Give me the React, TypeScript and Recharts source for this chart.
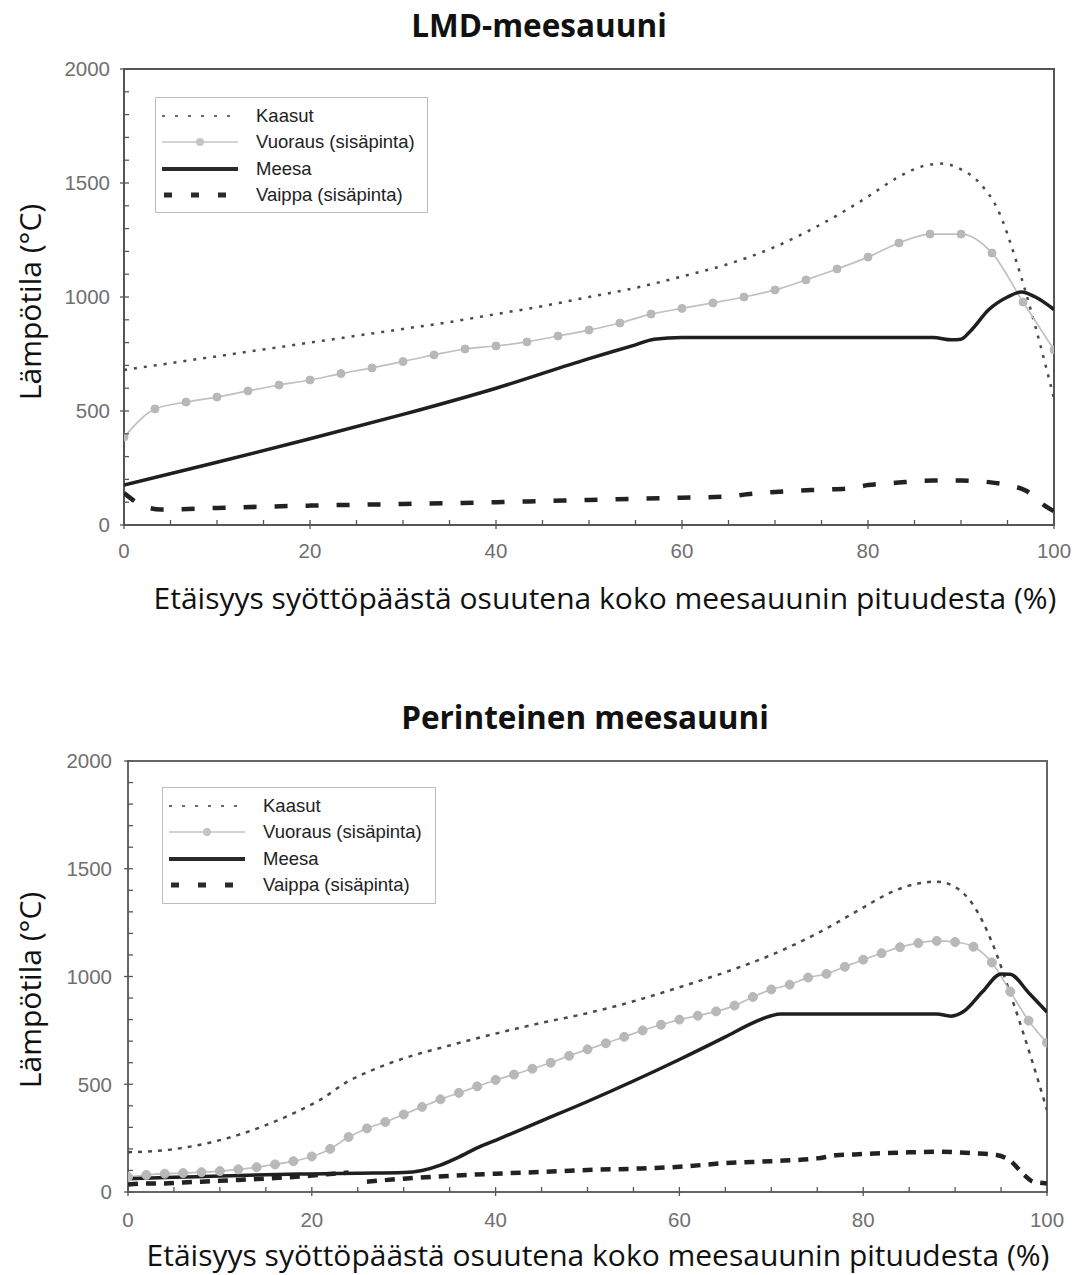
import React from 'react';
import { LineChart, Line, XAxis, YAxis, ReferenceArea, Legend } from 'recharts';

// ---------- LMD-meesauuni (top) ----------
const lmdKaasutX = [0, 5, 10, 15, 20, 25, 30, 35, 40, 45, 50, 55, 60, 65, 70, 75, 80, 83, 86, 88, 90, 92, 94, 96, 98, 100];
const lmdKaasutY = [680, 710, 740, 770, 800, 830, 860, 890, 925, 960, 1000, 1040, 1090, 1145, 1220, 1320, 1440, 1520, 1575, 1585, 1560, 1500, 1380, 1150, 870, 555];

const lmdVuorausX = [0, 3.33, 6.67, 10, 13.33, 16.67, 20, 23.33, 26.67, 30, 33.33, 36.67, 40, 43.33, 46.67, 50, 53.33, 56.67, 60, 63.33, 66.67, 70, 73.33, 76.67, 80, 83.33, 86.67, 90, 93.33, 96.67, 100];
const lmdVuorausY = [386, 509, 539, 561, 588, 614, 636, 664, 689, 717, 746, 772, 785, 803, 829, 855, 886, 925, 950, 974, 1000, 1031, 1075, 1123, 1175, 1237, 1276, 1276, 1193, 978, 768];

const lmdMeesaX = [0, 10, 20, 30, 40, 50, 55, 57, 60, 70, 80, 87, 89, 90, 91, 93, 95, 96.5, 98, 100];
const lmdMeesaY = [175, 275, 378, 485, 600, 730, 790, 815, 822, 822, 822, 822, 812, 815, 850, 945, 1000, 1022, 1000, 945];

const lmdVaippaX = [0, 2, 4, 10, 20, 30, 40, 50, 55, 60, 65, 67, 70, 75, 78, 80, 83, 87, 90, 93, 95, 97, 99, 100];
const lmdVaippaY = [140, 85, 68, 75, 85, 92, 100, 110, 115, 120, 125, 135, 145, 155, 160, 175, 185, 195, 195, 188, 175, 150, 85, 60];

// ---------- Perinteinen meesauuni (bottom) ----------
const perKaasutX = [0, 3, 6, 9, 12, 15, 18, 21, 24, 26, 28, 30, 35, 40, 45, 50, 55, 60, 65, 70, 75, 80, 83, 86, 88, 90, 92, 94, 96, 98, 100];
const perKaasutY = [185, 190, 205, 230, 265, 310, 365, 430, 515, 555, 590, 620, 680, 735, 785, 830, 885, 950, 1020, 1100, 1200, 1320, 1390, 1432, 1440, 1415, 1330, 1160, 920, 660, 380];

const perVuorausX = [0, 2, 4, 6, 8, 10, 12, 14, 16, 18, 20, 22, 24, 26, 28, 30, 32, 34, 36, 38, 40, 42, 44, 46, 48, 50, 52, 54, 56, 58, 60, 62, 64, 66, 68, 70, 72, 74, 76, 78, 80, 82, 84, 86, 88, 90, 92, 94, 96, 98, 100];
const perVuorausY = [70, 79, 85, 88, 92, 97, 105, 115, 128, 143, 165, 200, 255, 295, 325, 360, 395, 430, 460, 490, 520, 545, 572, 600, 632, 662, 690, 720, 750, 776, 800, 818, 838, 865, 905, 940, 962, 995, 1012, 1045, 1078, 1108, 1136, 1155, 1165, 1160, 1138, 1065, 930, 795, 693];

const perMeesaX = [0, 5, 10, 15, 20, 25, 30, 32, 34, 36, 38, 40, 45, 50, 55, 60, 65, 68, 70, 71, 75, 80, 85, 88, 89.5, 91, 93, 95, 96, 98, 100];
const perMeesaY = [62, 68, 74, 80, 84, 87, 90, 100, 125, 162, 205, 240, 330, 420, 515, 615, 720, 785, 818, 826, 826, 826, 826, 826, 816, 840, 930, 1012, 1010, 925, 835];

const perVaippaX = [0, 2, 4, 6, 8, 10, 12, 14, 16, 18, 20, 22, 24, 25, 26, 30, 35, 40, 45, 50, 55, 60, 65, 70, 75, 77, 80, 85, 88, 92, 94.5, 96, 97.5, 98.5, 100];
const perVaippaY = [35, 40, 40, 44, 48, 52, 56, 60, 65, 70, 76, 84, 90, null, 48, 62, 75, 85, 93, 102, 108, 117, 134, 143, 156, 170, 176, 184, 187, 180, 172, 145, 80, 48, 40];

const yTicks = [0, 100, 200, 300, 400, 500, 600, 700, 800, 900, 1000, 1100, 1200, 1300, 1400, 1500, 1600, 1700, 1800, 1900, 2000];
const xTicks = [0, 5, 10, 15, 20, 25, 30, 35, 40, 45, 50, 55, 60, 65, 70, 75, 80, 85, 90, 95, 100];

const seriesNames = ['Kaasut', 'Vuoraus (sisäpinta)', 'Meesa', 'Vaippa (sisäpinta)'];

const zip = (xs: number[], ys: (number | null)[]) => xs.map((x, i) => ({ x, y: ys[i] }));

const tickFont = 'Liberation Sans, Arial, sans-serif';
const labelFont = 'Open Sans, Noto Sans, sans-serif';

const YTick = (props: any) => {
  const { x, y, payload, gap } = props;
  const v = payload.value;
  const major = v % 500 === 0;
  return (
    <g>
      <line x1={major ? x - 4 : x} x2={x + 5} y1={y} y2={y} stroke="#555" strokeWidth={1.3} />
      {major && (
        <text x={x - (gap || 14)} y={y} dy="0.36em" textAnchor="end" fontFamily={tickFont} fontSize={20.5} fill="#707070">
          {v}
        </text>
      )}
    </g>
  );
};

const XTick = (props: any) => {
  const { x, y, payload, labelGap } = props;
  const v = payload.value;
  const major = v % 20 === 0;
  return (
    <g>
      <line x1={x} x2={x} y1={y - 5} y2={major ? y + 4 : y} stroke="#555" strokeWidth={1.3} />
      {major && (
        <text x={x} y={y + (labelGap || 26)} dy="0.36em" textAnchor="middle" fontFamily={tickFont} fontSize={20.5} fill="#707070">
          {v}
        </text>
      )}
    </g>
  );
};

const LegendBox = ({ width, height, sampleW, textX, rowGap }: any) => (
  <div
    style={{
      width,
      height,
      boxSizing: 'border-box',
      border: '1px solid #bdbdbd',
      background: '#fff',
      position: 'relative',
    }}
  >
    {seriesNames.map((name, i) => {
      const cy = 18 + i * rowGap;
      return (
        <div key={name} style={{ position: 'absolute', left: 0, top: cy - 12, height: 24, width: '100%' }}>
          <svg width={sampleW + 10} height={24} style={{ position: 'absolute', left: 4, top: 0 }}>
            {i === 0 && <line x1={2} x2={sampleW} y1={12} y2={12} stroke="#6a6a6a" strokeWidth={2.2} strokeDasharray="3 10" />}
            {i === 1 && (
              <g>
                <line x1={2} x2={sampleW} y1={12} y2={12} stroke="#c4c4c4" strokeWidth={1.5} />
                <circle cx={sampleW / 2 + 1} cy={12} r={4} fill="#c4c4c4" />
              </g>
            )}
            {i === 2 && <line x1={2} x2={sampleW} y1={12} y2={12} stroke="#2a2a2a" strokeWidth={4} />}
            {i === 3 && <line x1={4} x2={sampleW} y1={12} y2={12} stroke="#2a2a2a" strokeWidth={5} strokeDasharray="8 19" />}
          </svg>
          <span
            style={{
              position: 'absolute',
              left: textX,
              top: 0,
              lineHeight: '24px',
              fontFamily: tickFont,
              fontSize: 18.5,
              color: '#222',
              whiteSpace: 'nowrap',
            }}
          >
            {name}
          </span>
        </div>
      );
    })}
  </div>
);

const Panel = ({ data, width, height, margin, legendPos, legendSize, kaasutDash, vaippaDash, vaippaWidth, dotR, xLabelGap, yLabelGap, borderColor }: any) => (
  <LineChart width={width} height={height} margin={margin}>
    <XAxis
      type="number"
      dataKey="x"
      domain={[0, 100]}
      ticks={xTicks}
      interval={0}
      tickSize={0}
      tickMargin={0}
      tickLine={false}
      axisLine={false}
      height={40}
      tick={<XTick labelGap={xLabelGap} />}
      allowDataOverflow
    />
    <YAxis
      type="number"
      domain={[0, 2000]}
      ticks={yTicks}
      interval={0}
      tickSize={0}
      tickMargin={0}
      tickLine={false}
      axisLine={false}
      width={60}
      tick={<YTick gap={yLabelGap} />}
      allowDataOverflow
    />
    <ReferenceArea x1={0} x2={100} y1={0} y2={2000} fill="none" fillOpacity={0} stroke={borderColor} strokeWidth={2} ifOverflow="visible" />
    <Line
      data={data.kaasut}
      dataKey="y"
      name={seriesNames[0]}
      type="monotone"
      stroke="#4a4a4a"
      strokeWidth={2.5}
      strokeDasharray={kaasutDash}
      dot={false}
      isAnimationActive={false}
    />
    <Line
      data={data.vuoraus}
      dataKey="y"
      name={seriesNames[1]}
      type="monotone"
      stroke="#c0c0c0"
      strokeWidth={1.7}
      dot={{ r: dotR, fill: '#b8b8b8', stroke: '#b8b8b8', strokeWidth: 1 }}
      isAnimationActive={false}
    />
    <Line
      data={data.meesa}
      dataKey="y"
      name={seriesNames[2]}
      type="monotone"
      stroke="#1f1f1f"
      strokeWidth={3.5}
      dot={false}
      isAnimationActive={false}
    />
    <Line
      data={data.vaippa}
      dataKey="y"
      name={seriesNames[3]}
      type="monotone"
      stroke="#222"
      strokeWidth={vaippaWidth}
      strokeDasharray={vaippaDash}
      dot={false}
      connectNulls={false}
      isAnimationActive={false}
    />
    <Legend
      layout="vertical"
      align="center"
      verticalAlign="middle"
      wrapperStyle={{ position: 'absolute', left: legendPos.left, top: legendPos.top, width: legendSize.width, height: legendSize.height }}
      content={() => (
        <LegendBox width={legendSize.width} height={legendSize.height} sampleW={78} textX={legendSize.textX} rowGap={26.3} />
      )}
    />
  </LineChart>
);

const titleStyle: React.CSSProperties = {
  position: 'absolute',
  width: 600,
  height: 40,
  lineHeight: '40px',
  textAlign: 'center',
  fontFamily: labelFont,
  fontWeight: 700,
  fontSize: 31.5,
  color: '#111',
  whiteSpace: 'nowrap',
};

const xLabelStyle: React.CSSProperties = {
  position: 'absolute',
  width: 1000,
  height: 40,
  lineHeight: '40px',
  textAlign: 'center',
  fontFamily: labelFont,
  fontSize: 30,
  color: '#111',
  whiteSpace: 'nowrap',
};

const yLabelStyle: React.CSSProperties = {
  position: 'absolute',
  width: 300,
  height: 40,
  lineHeight: '40px',
  textAlign: 'center',
  fontFamily: labelFont,
  fontSize: 30,
  color: '#111',
  whiteSpace: 'nowrap',
  transform: 'rotate(-90deg)',
  transformOrigin: 'center center',
};

export default function App() {
  const top = {
    kaasut: zip(lmdKaasutX, lmdKaasutY),
    vuoraus: zip(lmdVuorausX, lmdVuorausY),
    meesa: zip(lmdMeesaX, lmdMeesaY),
    vaippa: zip(lmdVaippaX, lmdVaippaY),
  };
  const bottom = {
    kaasut: zip(perKaasutX, perKaasutY),
    vuoraus: zip(perVuorausX, perVuorausY),
    meesa: zip(perMeesaX, perMeesaY),
    vaippa: zip(perVaippaX, perVaippaY),
  };
  return (
    <div style={{ position: 'absolute', left: 0, top: 0, width: 1076, height: 1275, background: '#fff', overflow: 'hidden' }}>
      <div style={{ ...titleStyle, left: 239, top: 5 }}>LMD-meesauuni</div>
      <div style={{ position: 'absolute', left: 0, top: 0 }}>
        <Panel
          data={top}
          width={1076}
          height={640}
          margin={{ top: 69, right: 22, bottom: 75, left: 64 }}
          legendPos={{ left: 155, top: 97 }}
          legendSize={{ width: 273, height: 116, textX: 100 }}
          kaasutDash="3 7"
          vaippaDash="13 18"
          vaippaWidth={4.5}
          dotR={4}
          xLabelGap={26}
          yLabelGap={14}
          borderColor="#555"
        />
      </div>
      <div style={{ ...xLabelStyle, left: 105, top: 578 }}>Etäisyys syöttöpäästä osuutena koko meesauunin pituudesta (%)</div>
      <div style={{ ...yLabelStyle, left: 30 - 150, top: 302 - 20 }}>Lämpötila (°C)</div>

      <div style={{ ...titleStyle, left: 285, top: 697 }}>Perinteinen meesauuni</div>
      <div style={{ position: 'absolute', left: 0, top: 640 }}>
        <Panel
          data={bottom}
          width={1076}
          height={635}
          margin={{ top: 121, right: 29, bottom: 43, left: 68 }}
          legendPos={{ left: 162, top: 147 }}
          legendSize={{ width: 274, height: 117, textX: 100 }}
          kaasutDash="4 6"
          vaippaDash="10 8"
          vaippaWidth={4.5}
          dotR={4.5}
          xLabelGap={28}
          yLabelGap={16}
          borderColor="#666"
        />
      </div>
      <div style={{ ...xLabelStyle, left: 98, top: 1235 }}>Etäisyys syöttöpäästä osuutena koko meesauunin pituudesta (%)</div>
      <div style={{ ...yLabelStyle, left: 30 - 150, top: 990 - 20 }}>Lämpötila (°C)</div>
    </div>
  );
}
